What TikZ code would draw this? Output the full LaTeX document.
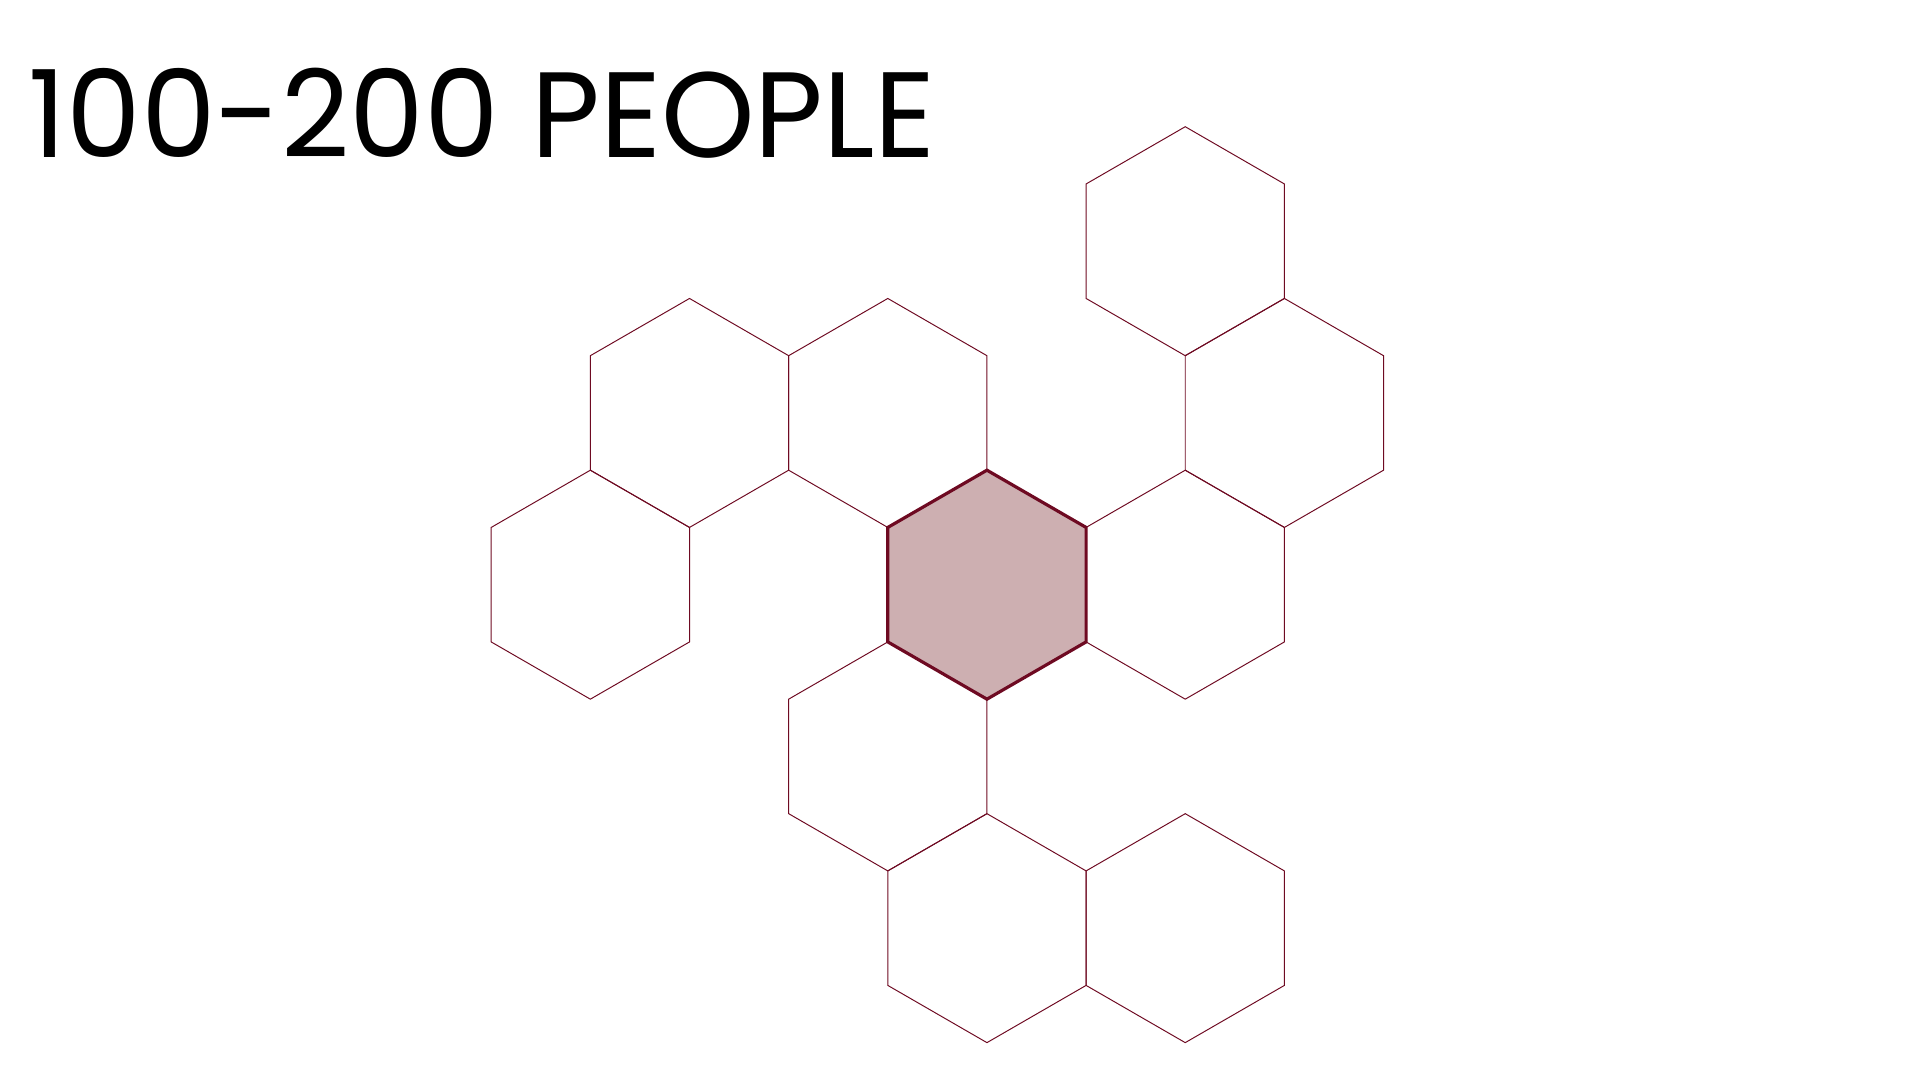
\documentclass[tikz,border=0pt]{standalone}
\usepackage{fontspec}
\setmainfont{Poppins}
\definecolor{hexline}{HTML}{6E0A22}
\definecolor{hexfill}{HTML}{CDAFB1}
\tikzset{
  hexcell/.style={draw=hexline, line width=0.8pt, line join=miter},
  hexcentre/.style={draw=hexline, fill=hexfill, line width=2.6pt, line join=miter}
}
\begin{document}
\begin{tikzpicture}[x=1pt,y=1pt]
\useasboundingbox (0,0) rectangle (1568,882);
\node[anchor=base west, inner sep=0] (title) at (23,753) {\resizebox{741pt}{73pt}{100-200 PEOPLE}};
\foreach \j/\k in {2/-2, 3/-1, 2/0, -3/-1, -1/-1, -4/0, -1/1, 0/2, 2/2}
  \draw[hexcell] ({806+80.97*\j},{404.5-140.25*\k}) +(90:93.5) -- +(30:93.5) -- +(-30:93.5) -- +(-90:93.5) -- +(-150:93.5) -- +(150:93.5) -- cycle;
\coordinate (centre) at (806,404.5);
\draw[hexcentre] (centre) +(90:93.5) -- +(30:93.5) -- +(-30:93.5) -- +(-90:93.5) -- +(-150:93.5) -- +(150:93.5) -- cycle;
\end{tikzpicture}
\end{document}
